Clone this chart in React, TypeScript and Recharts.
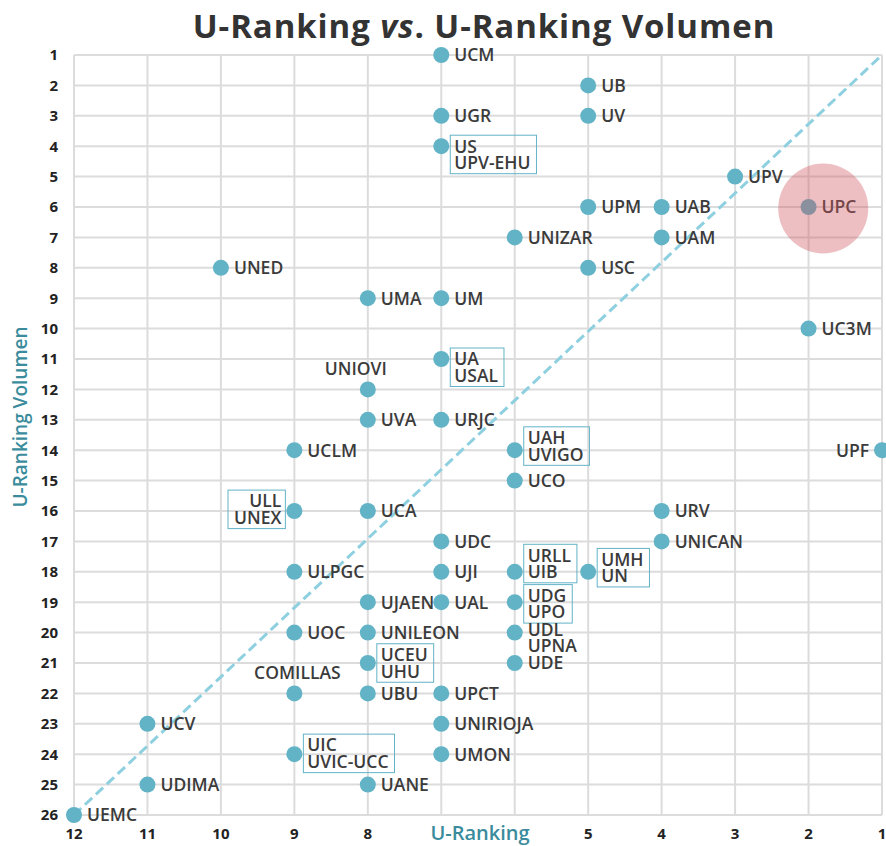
import React from 'react';
import { ScatterChart, Scatter, XAxis, YAxis, CartesianGrid, ReferenceLine, ReferenceDot } from 'recharts';

const universities = ['UCM','UB','UGR','UV','US/UPV-EHU','UPV','UPM','UAB','UPC','UNIZAR','UAM','UNED','USC','UMA','UM','UC3M','UA/USAL','UNIOVI','UVA','URJC','UCLM','UAH/UVIGO','UPF','UCO','ULL/UNEX','UCA','URV','UDC','UNICAN','ULPGC','UJI','URLL/UIB','UMH/UN','UJAEN','UAL','UDG/UPO','UOC','UNILEON','UDL/UPNA','UCEU/UHU','UDE','COMILLAS','UBU','UPCT','UCV','UNIRIOJA','UIC/UVIC-UCC','UMON','UDIMA','UANE','UEMC'];
const uRanking = [7,5,7,5,7,3,5,4,2,6,4,10,5,8,7,2,7,8,8,7,9,6,1,6,9,8,4,7,4,9,7,6,5,8,7,6,9,8,6,8,6,9,8,7,11,7,9,7,11,8,12];
const uRankingVolumen = [1,2,3,3,4,5,6,6,6,7,7,8,8,9,9,10,11,12,13,13,14,14,14,15,16,16,16,17,17,18,18,18,18,19,19,19,20,20,20,21,21,22,22,22,23,23,24,24,25,25,26];

const xTicks = [12,11,10,9,8,7,6,5,4,3,2,1];
const hiddenXTicks = [7,6];
const yTicks = [1,2,3,4,5,6,7,8,9,10,11,12,13,14,15,16,17,18,19,20,21,22,23,24,25,26];
const diagonal = [{ x: 12, y: 26 }, { x: 1, y: 1 }];
const highlight = { x: 1.8, y: 6.05 };

const title = ['U-Ranking ', 'vs', '. U-Ranking Volumen'];
const xTitle = 'U-Ranking';
const yTitle = 'U-Ranking Volumen';

type Layout = { side?: 'right' | 'left' | 'above'; shift?: number; boxed?: boolean; dx?: number };
const labelLayout: Record<string, Layout> = {
  'US/UPV-EHU': { shift: 0, boxed: true },
  'UA/USAL': { shift: 0, boxed: true },
  'UAH/UVIGO': { shift: 0.75, boxed: true },
  'URLL/UIB': { shift: 1, boxed: true },
  'UMH/UN': { shift: 0.75, boxed: true },
  'UDG/UPO': { shift: 0.4, boxed: true },
  'UCEU/UHU': { shift: 0.5, boxed: true },
  'UIC/UVIC-UCC': { shift: 0.55, boxed: true },
  'ULL/UNEX': { side: 'left', shift: 0.6, boxed: true },
  'UDL/UPNA': { shift: 0.2 },
  'UNIOVI': { side: 'above', dx: -12 },
  'COMILLAS': { side: 'above', dx: 3 },
  'UPF': { side: 'left' },
};

const data = universities.map((name, i) => ({ name, x: uRanking[i], y: uRankingVolumen[i] }));

const FONT = "'Open Sans', 'Noto Sans', sans-serif";
const LABEL_SIZE = 17.5;
const TEAL = '#62b3c6';
const TEXT = '#3b3b3b';

let ctx: CanvasRenderingContext2D | null = null;
const measure = (s: string) => {
  if (!ctx) ctx = document.createElement('canvas').getContext('2d');
  if (!ctx) return s.length * 10;
  ctx.font = `600 ${LABEL_SIZE}px 'Open Sans'`;
  return ctx.measureText(s).width;
};

const renderPoint = (props: any) => {
  const { cx, cy, payload } = props;
  if (cx == null || cy == null) return <g />;
  const lines: string[] = payload.name.split('/');
  const lay = labelLayout[payload.name] || {};
  const side = lay.side || 'right';
  const lh = 16.5;
  const shift = lay.shift || 0;
  const maxW = Math.max(...lines.map(measure));
  let textX = cx + 13;
  let anchor: 'start' | 'end' | 'middle' = 'start';
  let firstY = cy - shift * lh;
  if (side === 'left') {
    textX = cx - 13;
    anchor = 'end';
  } else if (side === 'above') {
    textX = cx + (lay.dx || 0);
    anchor = 'middle';
    firstY = cy - 21;
  }
  const lastY = firstY + (lines.length - 1) * lh;
  let rect = null;
  if (lay.boxed) {
    const left = side === 'left' ? textX - maxW - 6 : textX - 4;
    rect = (
      <rect x={left} y={firstY - 11} width={maxW + 10} height={lastY - firstY + 22} fill="none" stroke={TEAL} strokeWidth={1} />
    );
  }
  return (
    <g>
      {rect}
      <circle cx={cx} cy={cy} r={8} fill={TEAL} />
      {lines.map((l, i) => (
        <text key={i} x={textX} y={firstY + i * lh} dy="0.36em" textAnchor={anchor} fontFamily={FONT} fontSize={LABEL_SIZE} fontWeight={600} fill={TEXT}>
          {l}
        </text>
      ))}
    </g>
  );
};

export default function App() {
  return (
    <div style={{ position: 'absolute', left: 0, top: 0, width: 886, height: 846, background: '#fff' }}>
      <ScatterChart width={886} height={846} margin={{ top: 55, right: 4, bottom: 0, left: 0 }}>
        <CartesianGrid stroke="#dcdcdc" strokeWidth={2} />
        <XAxis
          type="number"
          dataKey="x"
          domain={[1, 12]}
          reversed
          ticks={xTicks}
          interval={0}
          height={31}
          axisLine={false}
          tickLine={false}
          tickMargin={7}
          tickFormatter={(v: number) => (hiddenXTicks.includes(v) ? '' : String(v))}
          tick={{ fontFamily: FONT, fontSize: 15, fontWeight: 700, fill: '#222' }}
        />
        <YAxis
          type="number"
          dataKey="y"
          domain={[1, 26]}
          reversed
          ticks={yTicks}
          interval={0}
          width={74}
          axisLine={false}
          tickLine={false}
          tickMargin={10}
          tick={{ fontFamily: FONT, fontSize: 15, fontWeight: 700, fill: '#222' }}
        />
        <Scatter data={data} shape={renderPoint} isAnimationActive={false} />
        <ReferenceLine segment={diagonal} stroke="#8fd0e0" strokeWidth={3} strokeDasharray="10 5" ifOverflow="visible" />
        <ReferenceDot x={highlight.x} y={highlight.y} r={45} fill="#d0585e" fillOpacity={0.38} stroke="none" ifOverflow="visible" />
      </ScatterChart>
      <svg width={886} height={846} style={{ position: 'absolute', left: 0, top: 0, pointerEvents: 'none' }}>
        <text x={484} y={38} textAnchor="middle" fontFamily={FONT} fontSize={33} fontWeight={700} letterSpacing={0.9} fill="#333">
          {title[0]}
          <tspan fontStyle="italic">{title[1]}</tspan>
          {title[2]}
        </text>
        <text x={480} y={840} textAnchor="middle" fontFamily={FONT} fontSize={20} fontWeight={600} fill="#3a8c9c">
          {xTitle}
        </text>
        <text x={27} y={417} textAnchor="middle" transform="rotate(-90, 27, 417)" fontFamily={FONT} fontSize={19} fontWeight={600} fill="#3a8c9c">
          {yTitle}
        </text>
      </svg>
    </div>
  );
}
